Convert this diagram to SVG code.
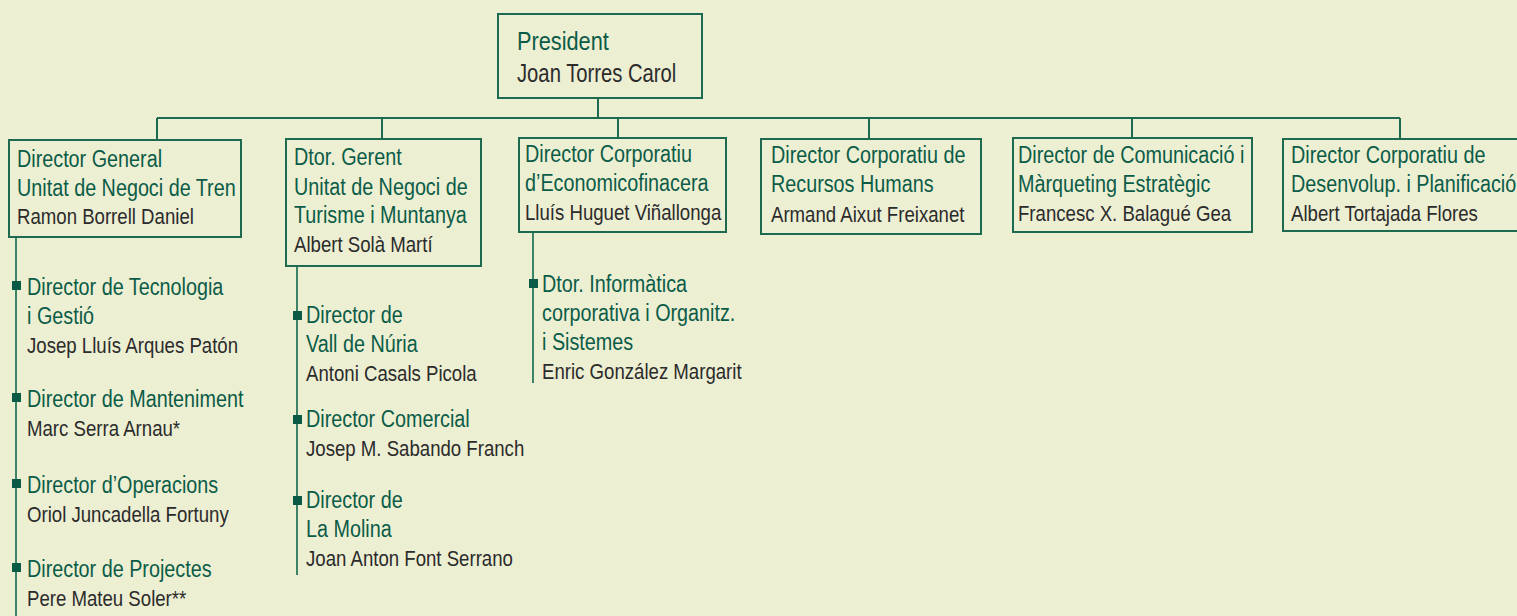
<svg xmlns="http://www.w3.org/2000/svg" width="1517" height="616" viewBox="0 0 1517 616">
<style>
.bg{fill:#EDEFD3}
.box{fill:#EDEFD3;stroke:#1E6A51;stroke-width:2}
.ln{stroke:#1E6A51;stroke-width:2;fill:none}
.vl{stroke:#3C8467;stroke-width:2;fill:none}
.bul{fill:#0B5A45}
text{font-family:"Liberation Sans",Arial,sans-serif;font-size:23px}
.t{fill:#0B5C47}
.n{fill:#2B2B2B}
.p{font-size:25px}
</style>
<rect class="bg" x="0" y="0" width="1517" height="616"/>
<g id="connectors">
<path class="ln" d="M598 98V118M157 118H1400M157 118V140M382 118V139M618 118V138M869 118V139M1132 118V138M1400 118V139"/>
<path class="vl" d="M16 237V616M297 266V575M533 232V383"/>
<rect class="bul" x="12" y="281" width="9" height="9"/>
<rect class="bul" x="12" y="393" width="9" height="9"/>
<rect class="bul" x="12" y="479" width="9" height="9"/>
<rect class="bul" x="12" y="563" width="9" height="9"/>
<rect class="bul" x="293" y="311" width="9" height="9"/>
<rect class="bul" x="293" y="415" width="9" height="9"/>
<rect class="bul" x="293" y="496" width="9" height="9"/>
<rect class="bul" x="529" y="279" width="9" height="9"/>
</g>
<g id="president">
<rect class="box" x="498" y="14" width="204" height="84"/>
<text class="t p" transform="translate(517,50) scale(0.87,1)">President</text>
<text class="n p" transform="translate(517,82) scale(0.81,1)">Joan Torres Carol</text>
</g>
<g id="dg-tren">
<rect class="box" x="9" y="140" width="232" height="97"/>
<text class="t" transform="translate(17,167) scale(0.86,1)">Director General</text>
<text class="t" transform="translate(17,196) scale(0.86,1)">Unitat de Negoci de Tren</text>
<text class="n" transform="translate(17,224) scale(0.81,1)">Ramon Borrell Daniel</text>
</g>
<g id="dg-turisme">
<rect class="box" x="286" y="139" width="195" height="127"/>
<text class="t" transform="translate(294,165) scale(0.86,1)">Dtor. Gerent</text>
<text class="t" transform="translate(294,195) scale(0.86,1)">Unitat de Negoci de</text>
<text class="t" transform="translate(294,223) scale(0.86,1)">Turisme i Muntanya</text>
<text class="n" transform="translate(294,252) scale(0.81,1)">Albert Solà Martí</text>
</g>
<g id="dc-econ">
<rect class="box" x="519" y="138" width="207" height="94"/>
<text class="t" transform="translate(525,162) scale(0.86,1)">Director Corporatiu</text>
<text class="t" transform="translate(525,191) scale(0.86,1)">d’Economicofinacera</text>
<text class="n" transform="translate(525,220) scale(0.81,1)">Lluís Huguet Viñallonga</text>
</g>
<g id="dc-rrhh">
<rect class="box" x="761" y="139" width="220" height="95"/>
<text class="t" transform="translate(771,163) scale(0.86,1)">Director Corporatiu de</text>
<text class="t" transform="translate(771,192) scale(0.86,1)">Recursos Humans</text>
<text class="n" transform="translate(771,222) scale(0.81,1)">Armand Aixut Freixanet</text>
</g>
<g id="dc-com">
<rect class="box" x="1013" y="138" width="239" height="94"/>
<text class="t" transform="translate(1018,163) scale(0.86,1)">Director de Comunicació i</text>
<text class="t" transform="translate(1018,192) scale(0.86,1)">Màrqueting Estratègic</text>
<text class="n" transform="translate(1018,221) scale(0.81,1)">Francesc X. Balagué Gea</text>
</g>
<g id="dc-desenv">
<rect class="box" x="1283" y="139" width="250" height="92"/>
<text class="t" transform="translate(1291,163) scale(0.86,1)">Director Corporatiu de</text>
<text class="t" transform="translate(1291,192) scale(0.86,1)">Desenvolup. i Planificació</text>
<text class="n" transform="translate(1291,221) scale(0.81,1)">Albert Tortajada Flores</text>
</g>
<g id="d-tecnologia">
<text class="t" transform="translate(27,295) scale(0.86,1)">Director de Tecnologia</text>
<text class="t" transform="translate(27,324) scale(0.86,1)">i Gestió</text>
<text class="n" transform="translate(27,353) scale(0.81,1)">Josep Lluís Arques Patón</text>
</g>
<g id="d-manteniment">
<text class="t" transform="translate(27,407) scale(0.86,1)">Director de Manteniment</text>
<text class="n" transform="translate(27,436) scale(0.81,1)">Marc Serra Arnau*</text>
</g>
<g id="d-operacions">
<text class="t" transform="translate(27,493) scale(0.86,1)">Director d’Operacions</text>
<text class="n" transform="translate(27,522) scale(0.81,1)">Oriol Juncadella Fortuny</text>
</g>
<g id="d-projectes">
<text class="t" transform="translate(27,577) scale(0.86,1)">Director de Projectes</text>
<text class="n" transform="translate(27,606) scale(0.81,1)">Pere Mateu Soler**</text>
</g>
<g id="d-nuria">
<text class="t" transform="translate(306,323) scale(0.86,1)">Director de</text>
<text class="t" transform="translate(306,352) scale(0.86,1)">Vall de Núria</text>
<text class="n" transform="translate(306,381) scale(0.81,1)">Antoni Casals Picola</text>
</g>
<g id="d-comercial">
<text class="t" transform="translate(306,427) scale(0.86,1)">Director Comercial</text>
<text class="n" transform="translate(306,456) scale(0.81,1)">Josep M. Sabando Franch</text>
</g>
<g id="d-molina">
<text class="t" transform="translate(306,508) scale(0.86,1)">Director de</text>
<text class="t" transform="translate(306,537) scale(0.86,1)">La Molina</text>
<text class="n" transform="translate(306,566) scale(0.81,1)">Joan Anton Font Serrano</text>
</g>
<g id="d-informatica">
<text class="t" transform="translate(542,292) scale(0.86,1)">Dtor. Informàtica</text>
<text class="t" transform="translate(542,321) scale(0.86,1)">corporativa i Organitz.</text>
<text class="t" transform="translate(542,350) scale(0.86,1)">i Sistemes</text>
<text class="n" transform="translate(542,379) scale(0.81,1)">Enric González Margarit</text>
</g>
</svg>
